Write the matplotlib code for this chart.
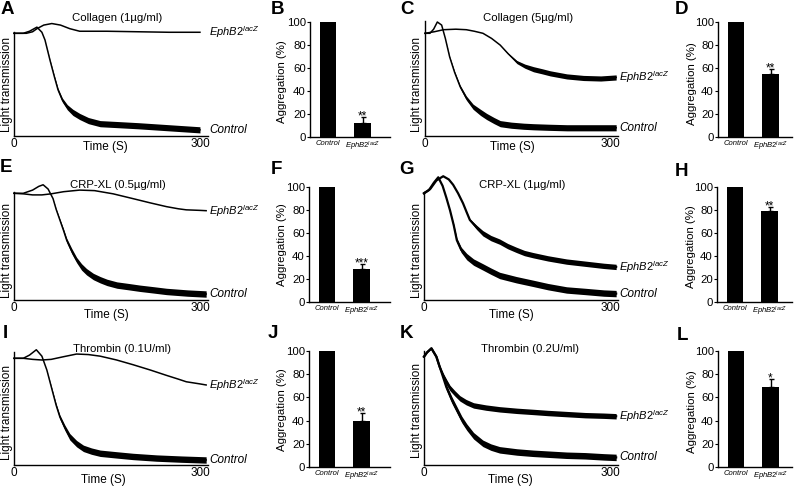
import numpy as np
import matplotlib.pyplot as plt
from matplotlib.transforms import blended_transform_factory

plt.rcParams['font.family'] = ['Liberation Sans', 'DejaVu Sans']
plt.rcParams['mathtext.fontset'] = 'custom'
plt.rcParams['mathtext.it'] = 'Liberation Sans:italic'
plt.rcParams['mathtext.rm'] = 'Liberation Sans'

# ---- aggregation traces (time in s, light transmission in arbitrary units, baseline = 100)
# *_n = half width of the noisy band
a_ctrl_t = [0, 15, 25, 37, 45, 50, 58, 65, 71, 78, 86, 95, 106, 120, 139, 170, 200, 250, 300]
a_ctrl_y = [100, 100, 102, 106, 101, 93.5, 74, 58, 45, 35, 28, 23, 19, 15, 12, 11, 10, 8, 6]
a_ctrl_n = [0, 0, 0, 0, 0, 0, 0.5, 1, 1.5, 2, 2.5, 3, 3, 3, 3, 3, 3, 3, 3]
a_eph_t = [0, 20, 30, 37, 48, 61, 75, 90, 106, 150, 200, 250, 300]
a_eph_y = [100, 100, 101.5, 104.5, 108, 109.5, 108, 104.5, 102, 102, 101.5, 101, 101]
a_eph_n = [0] * 13

c_ctrl_t = [0, 8, 14, 20, 27, 33, 40, 48, 57, 67, 78, 90, 100, 112, 122, 140, 160, 176, 200, 230, 260, 310]
c_ctrl_y = [100, 100, 104, 111, 108, 95, 77, 62, 48, 37, 28.5, 23, 19, 15, 12, 10.5, 9.5, 9, 8.5, 8, 8, 8]
c_ctrl_n = [0, 0, 0, 0, 0, 0, 0.5, 1, 1.5, 2, 2.5, 3, 3, 3, 3, 3, 3, 3, 3, 3, 3, 3]
c_eph_t = [0, 15, 30, 50, 67, 80, 94, 108, 122, 135, 149, 162, 176, 190, 203, 230, 257, 285, 310]
c_eph_y = [100, 101.5, 103.5, 104, 103.5, 102, 100, 95, 88.5, 80, 72, 68, 65, 63, 61, 58, 56.5, 56, 57]
c_eph_n = [0, 0, 0, 0, 0, 0, 0, 0, 0, 0.5, 1.5, 2, 2.5, 2.5, 2.5, 2.5, 2.5, 2.5, 2.5]

e_ctrl_t = [0, 15, 30, 40, 47, 55, 63, 68, 74, 80, 85, 93, 101, 109, 117, 128, 139, 150, 166, 185, 203, 225, 246, 280, 310]
e_ctrl_y = [100, 100, 103, 106.5, 108, 104, 95, 85, 75, 65, 56, 46, 37.5, 31, 26.5, 22, 19, 16.5, 14, 12.5, 11, 9.5, 8, 6.5, 5.6]
e_ctrl_n = [0, 0, 0, 0, 0, 0, 0, 0.5, 1, 1.5, 2, 2.5, 2.5, 3, 3, 3, 3, 3, 3, 3, 3, 3, 3, 3, 3]
e_eph_t = [0, 15, 30, 45, 60, 80, 106, 130, 160, 192, 220, 246, 265, 278, 300, 310]
e_eph_y = [100, 99.5, 98.5, 98.5, 99.5, 101.5, 103, 102.5, 99.5, 95, 91, 87.5, 85.5, 84.5, 84, 83.7]
e_eph_n = [0] * 16

g_ctrl_t = [0, 8, 16, 23, 30, 36, 42, 48, 53, 60, 69, 80, 95, 108, 122, 149, 176, 200, 230, 260, 290, 310]
g_ctrl_y = [100, 103, 110, 115, 107, 96, 84, 70, 56, 47, 40.6, 35.5, 31, 27, 23, 19, 15.6, 12.5, 9.4, 8, 6.5, 6]
g_ctrl_n = [0, 0, 0, 0, 0, 0, 0, 1, 2, 2.5, 3, 3, 3, 3, 3, 3, 3, 3, 3, 3, 3, 3]
g_eph_t = [0, 10, 20, 31, 40, 47, 55, 63, 69, 74, 85, 95, 108, 122, 135, 149, 162, 176, 200, 230, 260, 290, 310]
g_eph_y = [100, 104, 112, 116, 113, 108, 100, 90.6, 82, 75, 68, 62.5, 58, 54.7, 50.5, 47, 44, 42, 39, 36, 34, 32, 31]
g_eph_n = [0, 0, 0, 0, 0, 0, 0, 0, 0.5, 1, 2, 2.5, 2.5, 2.5, 2.5, 2.5, 2.5, 2.5, 2.5, 2.5, 2.5, 2.5, 2.5]

i_ctrl_t = [0, 15, 25, 36, 45, 53, 58, 63, 68, 74, 82, 90, 101, 112, 125, 139, 165, 192, 230, 270, 310]
i_ctrl_y = [100, 100, 103, 108, 102, 89, 78, 67, 56, 45, 35, 26.5, 20, 15.6, 13, 11, 9.5, 8, 6.5, 5.5, 4.7]
i_ctrl_n = [0, 0, 0, 0, 0, 0, 0.5, 1, 1.5, 2, 2.5, 3, 3, 3, 3, 3, 3, 3, 3, 3, 3]
i_eph_t = [0, 15, 30, 45, 60, 80, 101, 120, 139, 165, 192, 220, 246, 265, 278, 300, 310]
i_eph_y = [100, 100, 99, 98.4, 99, 101.5, 104, 103.5, 102, 98.5, 94, 89, 84, 80.5, 78, 76, 75]
i_eph_n = [0] * 17

k_ctrl_t = [0, 5, 12, 20, 28, 36, 45, 53, 61, 69, 80, 95, 108, 122, 150, 176, 200, 230, 260, 290, 310]
k_ctrl_y = [100, 104, 107.7, 100, 86, 72, 60, 51, 42, 35, 27, 20, 16.5, 14, 12, 10.8, 10, 9, 8.5, 7.5, 7]
k_ctrl_n = [0, 0, 0, 0.5, 1.5, 2.5, 3, 3, 3, 3, 3, 3, 3, 3, 3, 3, 3, 3, 3, 3, 3]
k_eph_t = [0, 5, 12, 20, 25, 31, 36, 42, 50, 58, 68, 80, 100, 122, 150, 176, 200, 230, 260, 290, 310]
k_eph_y = [100, 104, 107.7, 100, 91, 83, 77, 71, 66, 61.5, 58, 55, 53, 51.4, 50, 49, 48, 47, 46, 45.5, 45]
k_eph_n = [0, 0, 0, 0, 0.5, 1.5, 2.5, 2.5, 2.5, 2.5, 2.5, 2.5, 2.5, 2.5, 2.5, 2.5, 2.5, 2.5, 2.5, 2.5, 2.5]

trace_titles = ['Collagen (1µg/ml)', 'Collagen (5µg/ml)', 'CRP-XL (0.5µg/ml)',
                'CRP-XL (1µg/ml)', 'Thrombin (0.1U/ml)', 'Thrombin (0.2U/ml)']

# ---- aggregation bars (%)
bar_groups = ['Control', r'$\mathit{EphB2}^{\mathit{lacZ}}$']
ctrl_means = [100, 100, 100, 100, 100, 100]
eph_means = [12, 55, 29, 79, 40, 69]
eph_err = [5.5, 4, 4, 4, 6.5, 7]
eph_stars = ['**', '**', '***', '**', '**', '*']

W, H = 794, 487
fig = plt.figure(figsize=(W / 100, H / 100), dpi=100)


def box(l, r, b, t):
    return [l / W, 1 - b / H, (r - l) / W, (b - t) / H]


def ftext(x, y, s, **kw):
    fig.text(x / W, 1 - y / H, s, **kw)


eph_label = r'$\mathit{EphB2}^{\mathit{lacZ}}$'

# trace panels: (left, right, bottom, baseline px), spine top, line width, title pos, ylabel pos, time label pos
trace_geo = [
    ((14, 208, 136, 33.3), 101, 1.1, (117, 18), (7, 84), (105, 147)),
    ((425, 618, 136, 33.3), 112, 1.1, (528, 18), (417, 84), (512, 147)),
    ((14, 208, 300, 193.3), 101.5, 1.1, (118, 185), (7, 250), (106, 315)),
    ((424, 618, 300, 193.3), 101.5, 1.6, (522, 185), (417, 250), (511, 315)),
    ((14, 208, 465, 358.3), 106, 1.1, (122, 349), (7, 413), (103, 480)),
    ((424, 618, 465, 356.7), 105.5, 1.6, (530, 349), (417, 410), (510, 480)),
]
traces = [
    (a_ctrl_t, a_ctrl_y, a_ctrl_n, a_eph_t, a_eph_y, a_eph_n),
    (c_ctrl_t, c_ctrl_y, c_ctrl_n, c_eph_t, c_eph_y, c_eph_n),
    (e_ctrl_t, e_ctrl_y, e_ctrl_n, e_eph_t, e_eph_y, e_eph_n),
    (g_ctrl_t, g_ctrl_y, g_ctrl_n, g_eph_t, g_eph_y, g_eph_n),
    (i_ctrl_t, i_ctrl_y, i_ctrl_n, i_eph_t, i_eph_y, i_eph_n),
    (k_ctrl_t, k_ctrl_y, k_ctrl_n, k_eph_t, k_eph_y, k_eph_n),
]

for k in range(6):
    (l, r, b, base), stop, lw, tpos, ylpos, xlpos = trace_geo[k]
    top = base - 12
    ax = fig.add_axes(box(l, r, b, top))
    ax.set_xlim(0, 313)
    ax.set_ylim(0, (b - top) / (b - base) * 100)
    ct, cy, cn, et, ey, en = [np.asarray(v, dtype=float) for v in traces[k]]
    for t, y, n in ((et, ey, en), (ct, cy, cn)):
        ax.fill_between(t, y - n, y + n, color='black', lw=0, clip_on=False)
        ax.plot(t, y, color='black', lw=lw, clip_on=False, solid_joinstyle='round')
    tr = blended_transform_factory(ax.transAxes, ax.transData)
    ax.text(1.005, ey[-1], eph_label, transform=tr, ha='left', va='center', fontsize=8)
    ax.text(1.005, cy[-1], 'Control', transform=tr, ha='left', va='center',
            fontsize=8.5, style='italic')
    for s in ('top', 'right'):
        ax.spines[s].set_visible(False)
    ax.spines['left'].set_bounds(0, stop)
    for s in ('left', 'bottom'):
        ax.spines[s].set_linewidth(1.0)
    ax.set_yticks([])
    ax.set_xticks([0, 300])
    ax.set_xticklabels(['0', '300'])
    ax.tick_params(axis='x', length=0, pad=1.5, labelsize=8.5)
    ftext(*tpos, trace_titles[k], ha='center', va='center', fontsize=8.2)
    ftext(*ylpos, 'Light transmission', ha='center', va='center',
          rotation=90, fontsize=8.5)
    ftext(*xlpos, 'Time (S)', ha='center', va='center', fontsize=8.5)

# bar panels: left, right, bottom, top(100) px, ylabel pos
bar_geo = [
    ((310, 390, 137, 22), (282, 82)),
    ((718, 792, 137, 22), (692, 84)),
    ((309, 390, 302, 187), (282, 245)),
    ((717, 792, 302, 187), (691, 247)),
    ((309, 390, 467, 351), (282, 410)),
    ((718, 792, 467, 351), (692, 412)),
]

for k in range(6):
    (l, r, b, t), ylpos = bar_geo[k]
    ax = fig.add_axes(box(l, r, b, t))
    ax.bar([0, 1], [ctrl_means[k], eph_means[k]], width=0.48, color='black')
    ax.errorbar([1], [eph_means[k]], yerr=[[0], [eph_err[k]]], fmt='none',
                ecolor='black', elinewidth=1, capsize=1.8, capthick=1)
    ax.annotate(eph_stars[k], xy=(1, eph_means[k] + eph_err[k]), xytext=(0, -1.8),
                textcoords='offset points', ha='center', va='baseline', fontsize=8.5)
    ax.set_xlim(-18 / 34.5, (r - l - 18) / 34.5)
    ax.set_ylim(0, 100)
    ax.set_yticks([0, 20, 40, 60, 80, 100])
    ax.set_xticks([0, 1])
    ax.set_xticklabels(bar_groups, fontsize=5.5, style='italic')
    ax.tick_params(axis='x', length=0, pad=2)
    ax.tick_params(axis='y', length=2, width=0.8, pad=1, labelsize=8.2)
    for s in ('top', 'right'):
        ax.spines[s].set_visible(False)
    for s in ('left', 'bottom'):
        ax.spines[s].set_linewidth(1.0)
    ftext(*ylpos, 'Aggregation (%)', ha='center', va='center', rotation=90, fontsize=8.2)

letters = ['A', 'B', 'C', 'D', 'E', 'F', 'G', 'H', 'I', 'J', 'K', 'L']
letter_pos = [(7, 10), (278, 10), (407, 10), (682, 10), (6, 168), (276, 170),
              (407, 170), (682, 172), (5, 333), (273, 333), (407, 333), (682, 335)]
for s, (x, y) in zip(letters, letter_pos):
    ftext(x, y, s, ha='center', va='center', fontsize=13.5, fontweight='bold')

fig.savefig('out.png', dpi=100)
